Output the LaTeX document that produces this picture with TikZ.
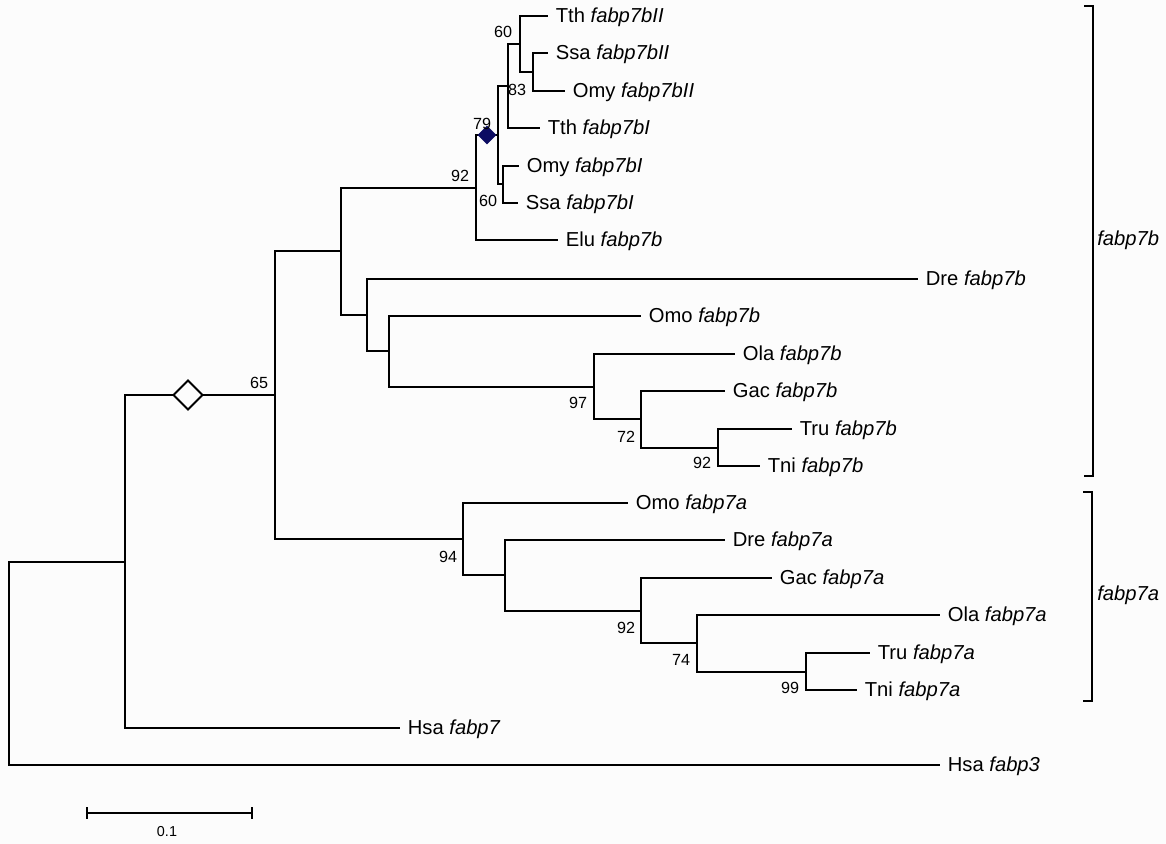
\documentclass[tikz,border=0pt]{standalone}
\usepackage{fontspec}
\setmainfont{Liberation Sans}
\usetikzlibrary{shapes.geometric}
\definecolor{paper}{RGB}{252,252,252}
\definecolor{dupblue}{RGB}{12,12,98}

\begin{document}
\begin{tikzpicture}[x=0.02cm,y=-0.02cm,
  branch/.style={line width=1.1pt},
  leaf/.style={anchor=west,inner xsep=0.15cm,inner ysep=0pt,text height=0.72em,text depth=0pt,
    font=\fontsize{11.5}{13}\selectfont},
  boot/.style={inner sep=0pt,font=\fontsize{9.2}{11}\selectfont},
  clade/.style={anchor=west,inner sep=0pt,font=\fontsize{11.5}{13}\selectfont\itshape},
  dupopen/.style={diamond,draw,line width=1.1pt,inner sep=0pt,minimum size=0.6cm,fill=paper},
  dupfull/.style={diamond,draw=none,inner sep=0pt,minimum size=0.38cm,fill=dupblue}]

\fill[paper] (0,0) rectangle (1166,844);

% leaves
\foreach \n/\x/\y/\sp/\g in {tthII/548/16/Tth/fabp7bII, ssaII/548/53/Ssa/fabp7bII,
    omyII/565/91/Omy/fabp7bII, tthI/540/128/Tth/fabp7bI, omyI/519/166/Omy/fabp7bI,
    ssaI/518/203/Ssa/fabp7bI, elub/558/240/Elu/fabp7b, dreb/918/279/Dre/fabp7b,
    omob/641/316/Omo/fabp7b, olab/735/354/Ola/fabp7b, gacb/725/391/Gac/fabp7b,
    trub/792/429/Tru/fabp7b, tnib/760/466/Tni/fabp7b, omoa/628/503/Omo/fabp7a,
    drea/725/540/Dre/fabp7a, gaca/772/578/Gac/fabp7a, olaa/940/615/Ola/fabp7a,
    trua/870/653/Tru/fabp7a, tnia/857/690/Tni/fabp7a, hsa7/400/728/Hsa/fabp7,
    hsa3/940/765/Hsa/fabp3} {
	\node[leaf] (\n) at (\x,\y) {\sp\ \textit{\g}};
}

% inner nodes
\coordinate (sII) at (533,72);
\coordinate (a1) at (520,44);
\coordinate (a2) at (508,86);
\coordinate (sI) at (503,184);
\coordinate (a3) at (498,135);
\coordinate (a4) at (476,188);
\coordinate (b1) at (718,448);
\coordinate (b2) at (641,419);
\coordinate (b3) at (594,387);
\coordinate (b4) at (389,351);
\coordinate (b5) at (367,315);
\coordinate (b6) at (341,251);
\coordinate (c1) at (806,672);
\coordinate (c2) at (697,643);
\coordinate (c3) at (641,611);
\coordinate (c4) at (505,575);
\coordinate (c5) at (463,539);
\coordinate (n65) at (275,395);
\coordinate (n7) at (125,562);
\coordinate (root) at (9,663);

\foreach \p/\c in {sII/ssaII, sII/omyII, a1/tthII, a1/sII, a2/a1, a2/tthI,
    sI/omyI, sI/ssaI, a3/a2, a3/sI, a4/a3, a4/elub,
    b1/trub, b1/tnib, b2/gacb, b2/b1, b3/olab, b3/b2, b4/omob, b4/b3,
    b5/dreb, b5/b4, b6/a4, b6/b5,
    c1/trua, c1/tnia, c2/olaa, c2/c1, c3/gaca, c3/c2, c4/drea, c4/c3,
    c5/omoa, c5/c4, n65/b6, n65/c5, n7/n65, n7/hsa7, root/n7, root/hsa3} {
	\draw[branch] (\p) |- (\c);
}

\node[dupopen] (dupA) at (188,395) {};
\node[dupfull] (dupB) at (487,135) {};

% bootstrap values
\foreach \x/\y/\v [count=\i] in {503/32/60, 517/90/83, 482/124/79, 460/176/92,
    488/201/60, 259/383/65, 578/403/97, 626/437/72, 702/463/92,
    448/557/94, 626/628/92, 681/660/74, 790/688/99} {
	\node[boot] (bs\i) at (\x,\y) {\v};
}

% clades
\draw[branch] (1084,6) -- (1093,6) -- (1093,476) -- (1084,476);
\draw[branch] (1083,492) -- (1092,492) -- (1092,701) -- (1083,701);
\node[clade] (cladeb) at (1097,240) {fabp7b};
\node[clade] (cladea) at (1097,595) {fabp7a};

% scale
\draw[branch] (87,807) -- (87,819);
\draw[branch] (252,807) -- (252,819);
\draw[branch] (87,813) -- (252,813);
\node[inner sep=0pt,font=\fontsize{8.2}{10}\selectfont] (scale) at (167,832) {0.1};
\end{tikzpicture}
\end{document}
